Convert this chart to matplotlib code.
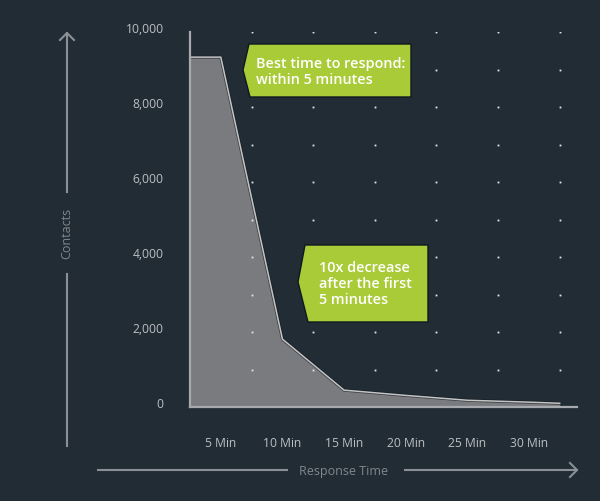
#!/usr/bin/env python3
# Contacts reached vs. response time, dark infographic style.

import numpy as np
import matplotlib.pyplot as plt
from matplotlib.patches import Polygon
from matplotlib.lines import Line2D

plt.rcParams['font.family'] = ['Open Sans', 'DejaVu Sans']

# Data
categories = ["5 Min", "10 Min", "15 Min", "20 Min", "25 Min", "30 Min"]
contacts = [9330, 1810, 450, 310, 180, 130]
start_contacts = 9330   # value at left edge of the plot
end_contacts = 100      # value where the area stops on the right
y_ticks = [0, 2000, 4000, 6000, 8000, 10000]

bg = '#222c34'
fill_col = '#7a7b7f'
edge_col = '#c4c4c4'
green = '#a9cb38'
tick_col = '#bcc0c4'
title_col = '#80878c'

W, H = 600, 502
fig = plt.figure(figsize=(W / 100, H / 100), dpi=100, facecolor=bg)

def px(x, y):
    return (x / W, 1 - y / H)

# axes box: left 190px, right 577px, top 33px, bottom 408px
ax = fig.add_axes([190 / W, 1 - 408 / H, (577 - 190) / W, (408 - 33) / H])
ax.set_facecolor(bg)

idx = np.arange(len(categories))
xs = np.concatenate([[-0.5], idx, [5.5]])
ys = np.concatenate([[start_contacts], contacts, [end_contacts]])

ax.fill_between(xs, ys, 0, color=fill_col, lw=0, zorder=2)
ax.plot(xs, ys, color='#10181e', lw=2.2, zorder=3, alpha=0.6)
ax.plot(xs, ys, color=edge_col, lw=1.1, zorder=4)

# dot grid
gx, gy = np.meshgrid(np.arange(0.5, 6, 1.0), np.arange(0, 10001, 1000))
ax.plot(gx.ravel(), gy.ravel(), 's', color='#e6e8ea', ms=1.3, mew=0, zorder=5)

ax.set_xlim(-0.5, 5.78)
ax.set_ylim(0, 10000)

for side in ['top', 'right']:
    ax.spines[side].set_visible(False)
for side in ['left', 'bottom']:
    ax.spines[side].set_color('#a6aaae')
    ax.spines[side].set_linewidth(1.6)
    ax.spines[side].set_zorder(6)

ax.set_xticks(idx)
ax.set_xticklabels(categories)
ax.set_yticks(y_ticks)
ax.set_yticklabels([f"{v:,}" for v in y_ticks])
ax.tick_params(length=0, colors=tick_col, labelsize=8.7)
ax.tick_params(axis='y', pad=19)
ax.tick_params(axis='x', pad=21)
for lab in ax.get_yticklabels():
    lab.set_verticalalignment('baseline')

# axis arrows and titles
lc = '#8a9095'
fig.add_artist(Line2D([px(67, 0)[0]] * 2, [px(0, 447)[1], px(0, 275)[1]], color=lc, lw=1.5))
fig.add_artist(Line2D([px(67, 0)[0]] * 2, [px(0, 193)[1], px(0, 34)[1]], color=lc, lw=1.5))
fig.add_artist(Line2D([px(60, 0)[0], px(67, 0)[0], px(74, 0)[0]],
                      [px(0, 41)[1], px(0, 34)[1], px(0, 41)[1]], color=lc, lw=1.5))
fig.text(*px(67, 233), "Contacts", rotation=90, ha='center', va='center',
         color=title_col, fontsize=9)

fig.add_artist(Line2D([px(98, 0)[0], px(287, 0)[0]], [px(0, 471)[1]] * 2, color=lc, lw=1.5))
fig.add_artist(Line2D([px(405, 0)[0], px(577, 0)[0]], [px(0, 471)[1]] * 2, color=lc, lw=1.5))
fig.add_artist(Line2D([px(570, 0)[0], px(577, 0)[0], px(570, 0)[0]],
                      [px(0, 464)[1], px(0, 471)[1], px(0, 478)[1]], color=lc, lw=1.5))
fig.text(*px(344, 471), "Response Time", ha='center', va='center',
         color=title_col, fontsize=9)

# callouts
def callout(pts, tx, ty, text):
    poly = Polygon([px(x, y) for x, y in pts], closed=True, transform=fig.transFigure,
                   facecolor=green, edgecolor='#0e1820', lw=1.0, zorder=10)
    fig.add_artist(poly)
    fig.text(*px(tx, ty), text, ha='left', va='center', color='white',
             fontsize=10.4, fontweight='semibold', linespacing=1.15, zorder=11)

callout([(249, 45), (411, 45), (411, 98), (250, 98), (243, 71)],
        256, 72, "Best time to respond:\nwithin 5 minutes")
callout([(305, 246), (428, 246), (428, 323), (308, 323), (298, 283)],
        319, 284, "10x decrease\nafter the first\n5 minutes")

fig.savefig("out.png", dpi=100, facecolor=bg)
